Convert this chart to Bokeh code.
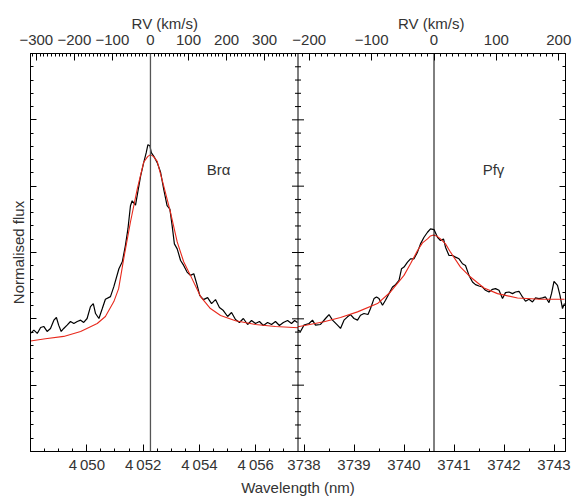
import numpy as np
from bokeh.plotting import figure
from bokeh.models import (Range1d, LinearAxis, FixedTicker, CustomJSTickFormatter,
                          Label, Span)
from bokeh.embed import file_html
from bokeh.resources import INLINE

C_KMS = 299792.458
BRA_REST = 4052.26   # nm, Br-alpha
PFG_REST = 3740.60   # nm, Pf-gamma

BRA_RANGE = (4048.0, 4057.5)
PFG_RANGE = (3737.88, 3743.23)

# Observed Br-alpha profile
bra_wave = [4048.00, 4048.12, 4048.24, 4048.36, 4048.47, 4048.59, 4048.71, 4048.83, 4048.92, 4049.00,
            4049.09, 4049.18, 4049.30, 4049.42, 4049.54, 4049.66, 4049.78, 4049.89, 4050.01, 4050.13,
            4050.23, 4050.31, 4050.43, 4050.55, 4050.66, 4050.84, 4050.96, 4051.14, 4051.26, 4051.37,
            4051.46, 4051.55, 4051.61, 4051.73, 4051.81, 4051.91, 4052.02, 4052.11, 4052.17, 4052.24,
            4052.29, 4052.38, 4052.50, 4052.62, 4052.73, 4052.85, 4052.95, 4053.03, 4053.11, 4053.21,
            4053.33, 4053.44, 4053.56, 4053.68, 4053.80, 4053.92, 4054.01, 4054.14, 4054.29, 4054.43,
            4054.57, 4054.71, 4054.85, 4055.00, 4055.14, 4055.28, 4055.42, 4055.56, 4055.71, 4055.85,
            4055.99, 4056.13, 4056.27, 4056.42, 4056.56, 4056.70, 4056.84, 4056.98, 4057.13, 4057.27,
            4057.38, 4057.48]
bra_flux = [0.956, 0.966, 0.956, 0.974, 0.977, 0.962, 0.971, 0.996, 1.004, 0.981,
            0.962, 0.971, 0.981, 0.992, 0.986, 0.992, 0.996, 0.989, 1.001, 1.037,
            1.046, 1.016, 1.001, 1.031, 1.059, 1.067, 1.097, 1.151, 1.172, 1.221,
            1.271, 1.341, 1.356, 1.343, 1.382, 1.430, 1.471, 1.501, 1.525, 1.522,
            1.501, 1.490, 1.471, 1.442, 1.391, 1.341, 1.331, 1.281, 1.226, 1.211,
            1.176, 1.161, 1.141, 1.131, 1.136, 1.101, 1.071, 1.058, 1.064, 1.046,
            1.058, 1.034, 1.025, 1.007, 1.019, 0.998, 0.989, 1.001, 0.983, 0.995,
            0.986, 0.992, 0.980, 0.989, 0.983, 0.992, 0.980, 0.989, 0.995, 0.986,
            0.995, 0.989]

# Model fit to Br-alpha
bra_fit_wave = [4048.00, 4048.53, 4049.18, 4049.78, 4050.37, 4050.66, 4050.96, 4051.13, 4051.31,
                4051.55, 4051.79, 4052.02, 4052.16, 4052.26, 4052.37, 4052.50, 4052.73, 4052.97,
                4053.21, 4053.44, 4053.68, 4054.04, 4054.39, 4054.75, 4055.28, 4055.99, 4056.70,
                4057.50]
bra_fit_flux = [0.933, 0.940, 0.947, 0.962, 0.986, 1.007, 1.052, 1.091, 1.181,
                1.292, 1.391, 1.472, 1.489, 1.495, 1.489, 1.475, 1.401, 1.322,
                1.232, 1.172, 1.131, 1.067, 1.031, 1.010, 0.994, 0.983, 0.977,
                0.973]

# Observed Pf-gamma profile
pfg_wave = [3737.88, 3737.93, 3738.00, 3738.10, 3738.17, 3738.23, 3738.33, 3738.43, 3738.50, 3738.57,
            3738.67, 3738.73, 3738.80, 3738.87, 3738.93, 3739.00, 3739.07, 3739.13, 3739.20, 3739.28,
            3739.33, 3739.40, 3739.45, 3739.50, 3739.57, 3739.63, 3739.70, 3739.77, 3739.83, 3739.90,
            3739.95, 3740.00, 3740.07, 3740.13, 3740.20, 3740.27, 3740.33, 3740.40, 3740.47, 3740.53,
            3740.60, 3740.67, 3740.73, 3740.79, 3740.83, 3740.90, 3740.97, 3741.03, 3741.10, 3741.17,
            3741.23, 3741.30, 3741.37, 3741.43, 3741.50, 3741.57, 3741.63, 3741.70, 3741.77, 3741.83,
            3741.90, 3741.97, 3742.03, 3742.10, 3742.17, 3742.23, 3742.30, 3742.37, 3742.43, 3742.50,
            3742.57, 3742.63, 3742.70, 3742.77, 3742.83, 3742.90, 3742.95, 3743.00, 3743.07, 3743.12,
            3743.17, 3743.21]
pfg_flux = [0.966, 0.962, 0.981, 0.986, 0.996, 0.981, 0.983, 1.001, 1.013, 0.996,
            0.981, 0.971, 0.996, 1.006, 1.013, 1.001, 0.996, 1.011, 1.016, 1.013,
            1.031, 1.061, 1.066, 1.061, 1.041, 1.056, 1.076, 1.096, 1.103, 1.116,
            1.151, 1.156, 1.171, 1.181, 1.181, 1.201, 1.226, 1.246, 1.261, 1.271,
            1.269, 1.246, 1.236, 1.241, 1.216, 1.191, 1.191, 1.186, 1.181, 1.166,
            1.161, 1.131, 1.111, 1.103, 1.099, 1.096, 1.086, 1.081, 1.089, 1.091,
            1.086, 1.061, 1.079, 1.081, 1.076, 1.081, 1.083, 1.066, 1.053, 1.059,
            1.051, 1.063, 1.061, 1.063, 1.066, 1.049, 1.076, 1.113, 1.101, 1.071,
            1.031, 1.046]

# Model fit to Pf-gamma
pfg_fit_wave = [3737.88, 3738.40, 3738.73, 3739.07, 3739.47, 3739.73, 3740.00, 3740.13, 3740.27,
                3740.37, 3740.47, 3740.53, 3740.59, 3740.65, 3740.73, 3740.83, 3740.93, 3741.13,
                3741.33, 3741.60, 3741.87, 3742.27, 3742.73, 3743.21]
pfg_fit_flux = [0.976, 0.991, 1.004, 1.021, 1.046, 1.081, 1.131, 1.166, 1.206,
                1.229, 1.241, 1.250, 1.253, 1.250, 1.241, 1.226, 1.201, 1.156,
                1.126, 1.093, 1.076, 1.063, 1.059, 1.059]

# Axis tick values
bra_wave_major = [4050, 4052, 4054, 4056]
pfg_wave_major = [3738, 3739, 3740, 3741, 3742, 3743]
bra_rv_major = [-300, -200, -100, 0, 100, 200, 300]
pfg_rv_major = [-200, -100, 0, 100, 200]
flux_major = [0.6, 0.8, 1.0, 1.2, 1.4, 1.6, 1.8]

FONT = "Liberation Sans"
TEXT_COLOR = "#333333"
FIT_COLOR = "#e8291c"

span_bra = BRA_RANGE[1] - BRA_RANGE[0]
span_pfg = PFG_RANGE[1] - PFG_RANGE[0]


def pfg_to_shared(lam):
    """Position of a Pf-gamma wavelength on the shared (Br-alpha based) axis coordinate."""
    return BRA_RANGE[1] + (lam - PFG_RANGE[0]) * span_bra / span_pfg


def rv_to_wave(v, rest):
    return rest * (1.0 + v / C_KMS)


def fmt_wave(w):
    s = f"{int(w)}"
    return s[0] + "\u2009" + s[1:] if w > 4000 else s


def fmt_rv(v):
    return ("\u2212" + str(-v)) if v < 0 else str(v)


def label_formatter(pos, txt):
    return CustomJSTickFormatter(
        args=dict(pos=[round(p, 6) for p in pos], txt=txt),
        code="const i = pos.findIndex((p) => Math.abs(p - tick) < 1e-5);"
             "return i < 0 ? '' : txt[i];")


p = figure(width=574, height=498, output_backend="svg", toolbar_location=None,
           x_range=Range1d(BRA_RANGE[0], BRA_RANGE[0] + 2 * span_bra),
           y_range=Range1d(0.6, 1.8),
           min_border_left=30, min_border_right=9, min_border_top=53, min_border_bottom=44)
p.extra_x_ranges = {"pf": Range1d(PFG_RANGE[0] - span_pfg, PFG_RANGE[1])}
p.grid.visible = False
p.outline_line_color = "black"
p.outline_line_width = 1
p.background_fill_color = "white"
p.border_fill_color = "white"

# Spectra and fits
p.line(bra_wave, bra_flux, line_color="black", line_width=1.2)
p.line(bra_fit_wave, bra_fit_flux, line_color=FIT_COLOR, line_width=1.1)
p.line(pfg_wave, pfg_flux, line_color="black", line_width=1.2, x_range_name="pf")
p.line(pfg_fit_wave, pfg_fit_flux, line_color=FIT_COLOR, line_width=1.1, x_range_name="pf")

# Rest-wavelength markers and panel divider
p.add_layout(Span(location=BRA_REST, dimension="height", line_color="#555555", line_width=1.3))
p.add_layout(Span(location=PFG_REST, dimension="height", line_color="black", line_width=1,
                  x_range_name="pf"))
p.add_layout(Span(location=BRA_RANGE[1], dimension="height", line_color="black", line_width=1))

# ---- bottom axis: wavelength for both panels
b_major = [float(w) for w in bra_wave_major] + [pfg_to_shared(w) for w in pfg_wave_major]
b_text = [fmt_wave(w) for w in bra_wave_major] + [fmt_wave(w) for w in pfg_wave_major]
b_minor = [w for w in np.arange(4048.5, 4057.4, 0.5) if w not in bra_wave_major]
b_minor += [pfg_to_shared(w) for w in np.arange(3738.5, 3743.0, 1.0)]

xb = p.xaxis[0]
xb.ticker = FixedTicker(ticks=b_major, minor_ticks=b_minor)
xb.formatter = label_formatter(b_major, b_text)
xb.axis_label = "Wavelength (nm)"

# ---- top axis: radial velocity for both panels; one title over each panel
t_major = [rv_to_wave(v, BRA_REST) for v in bra_rv_major] + \
          [pfg_to_shared(rv_to_wave(v, PFG_REST)) for v in pfg_rv_major]
t_text = [fmt_rv(v) for v in bra_rv_major] + [fmt_rv(v) for v in pfg_rv_major]
t_minor = [rv_to_wave(v, BRA_REST) for v in range(-310, 400, 10)
           if v % 100 and BRA_RANGE[0] < rv_to_wave(v, BRA_REST) < BRA_RANGE[1]]
t_minor += [pfg_to_shared(rv_to_wave(v, PFG_REST)) for v in range(-210, 220, 10)
            if v % 100 and PFG_RANGE[0] < rv_to_wave(v, PFG_REST) < PFG_RANGE[1]]
RV_TITLE = "RV (km/s)"
xt = LinearAxis(ticker=FixedTicker(ticks=t_major, minor_ticks=t_minor),
                formatter=label_formatter(t_major, t_text),
                axis_label=RV_TITLE + "\u00a0" * 48 + RV_TITLE)
p.add_layout(xt, "above")

# ---- y axes (no numeric labels)
y_minor = [round(v, 3) for v in np.arange(0.64, 1.8, 0.04) if round(v, 3) not in flux_major]
yl = p.yaxis[0]
yl.ticker = FixedTicker(ticks=flux_major, minor_ticks=y_minor)
yl.formatter = CustomJSTickFormatter(code="return '';")
yl.axis_label = "Normalised flux"
yr = LinearAxis(ticker=FixedTicker(ticks=flux_major, minor_ticks=y_minor),
                formatter=CustomJSTickFormatter(code="return '';"))
p.add_layout(yr, "right")

for ax in (xb, xt):
    ax.major_tick_in = 7
    ax.major_tick_out = 0
    ax.minor_tick_in = 3
    ax.minor_tick_out = 0
for ax in (yl, yr):
    ax.major_tick_in = 6
    ax.major_tick_out = 0
    ax.minor_tick_in = 3
    ax.minor_tick_out = 0
    ax.major_label_standoff = 0
for ax in (xb, xt, yl, yr):
    ax.axis_line_color = "black"
    ax.major_tick_line_color = "black"
    ax.minor_tick_line_color = "black"
    ax.major_label_text_font = FONT
    ax.major_label_text_font_size = "15px"
    ax.major_label_text_color = TEXT_COLOR
    ax.axis_label_text_font = FONT
    ax.axis_label_text_font_size = "15px"
    ax.axis_label_text_font_style = "normal"
    ax.axis_label_text_color = TEXT_COLOR
xb.major_label_standoff = 4
xb.axis_label_standoff = 3
xt.major_label_standoff = 9
xt.axis_label_standoff = 0
yl.axis_label_standoff = 4

# Ticks on both sides of the panel divider
mid_major = flux_major[1:-1]
p.scatter([BRA_RANGE[1]] * len(mid_major), mid_major, marker="dash", size=12,
          line_color="black", line_width=1)
p.scatter([BRA_RANGE[1]] * len(y_minor), y_minor, marker="dash", size=6,
          line_color="black", line_width=1)

# Line names
p.add_layout(Label(x=4054.68, y=1.45, text="Brα", text_align="center", text_baseline="middle",
                   text_font=FONT, text_font_size="15px", text_color=TEXT_COLOR))
p.add_layout(Label(x=3741.79, y=1.45, text="Pfγ", x_range_name="pf", text_align="center",
                   text_baseline="middle", text_font=FONT, text_font_size="15px",
                   text_color=TEXT_COLOR))

open("out.html", "w").write(file_html(p, INLINE))
